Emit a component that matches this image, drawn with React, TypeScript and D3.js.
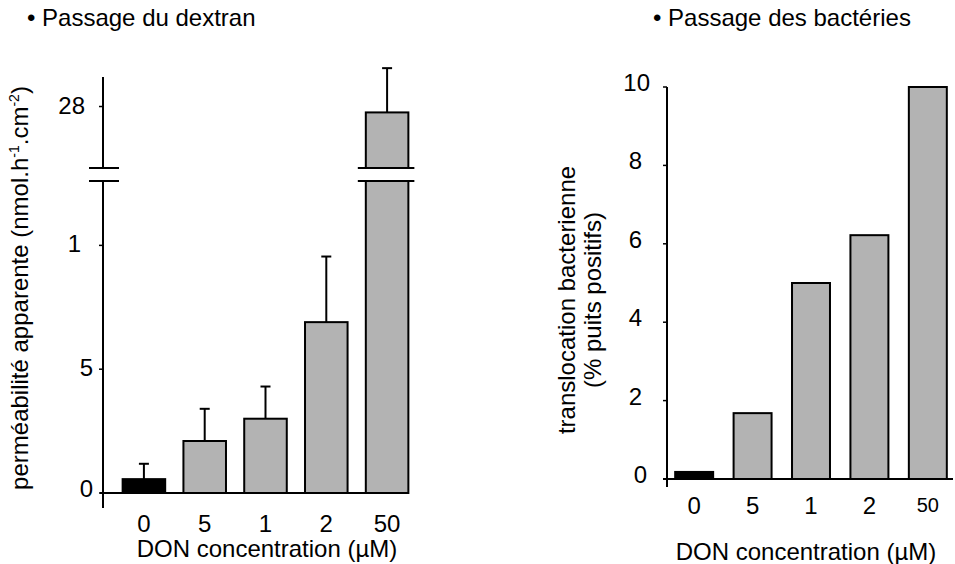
import React, { useEffect, useRef } from "react";
import * as d3 from "d3";

// DON concentrations (x categories), as printed on the figure
const categories = ["0", "5", "1", "2", "50"];

// left panel: dextran passage
const dextranValues = [0.56, 2.1, 3.0, 6.9, 27.76];
const dextranErrors = [0.62, 1.3, 1.3, 2.65, 1.8];
const dextranTicks = [0, 5, 10, 28];
const dextranTickLabels = ["0", "5", "1", "28"];

// right panel: bacterial translocation
const bacteriaValues = [0.18, 1.68, 5.0, 6.22, 10.0];
const bacteriaTicks = [0, 2, 4, 6, 8, 10];

const FONT = "'Liberation Sans', Arial, sans-serif";
const GREY = "#b3b3b3";

const App = () => {
  const svgRef = useRef<SVGSVGElement>(null);

  useEffect(() => {
    const svg = d3.select(svgRef.current);
    svg.selectAll("*").remove();

    // ---------- left chart (broken y axis) ----------
    const left = svg.append("g");
    const x1 = d3
      .scaleBand()
      .domain(categories)
      .range([105, 426])
      .paddingInner(0.3)
      .paddingOuter(0.29);

    const breakLo = 12.6;
    const breakHi = 25.5;
    const yLow = d3.scaleLinear().domain([0, breakLo]).range([493, 181]);
    const yHigh = d3.scaleLinear().domain([breakHi, 29.2]).range([168, 77]);
    const yAny = (v: number) => (v > breakLo ? yHigh(v) : yLow(v));
    const axisX = 103;

    left
      .append("text")
      .attr("x", 27)
      .attr("y", 26)
      .style("font-family", FONT)
      .style("font-size", "24px")
      .text("\u2022 Passage du dextran");

    // bars
    categories.forEach((c, i) => {
      const v = dextranValues[i];
      const bx = x1(c)!;
      const bw = x1.bandwidth();
      const fill = i === 0 ? "#000" : GREY;
      if (v > breakLo) {
        left
          .append("rect")
          .attr("x", bx)
          .attr("y", yLow(breakLo))
          .attr("width", bw)
          .attr("height", yLow(0) - yLow(breakLo))
          .attr("fill", fill)
          .attr("stroke", "#000")
          .attr("stroke-width", 2);
        left
          .append("rect")
          .attr("x", bx)
          .attr("y", yHigh(v))
          .attr("width", bw)
          .attr("height", yHigh(breakHi) - yHigh(v))
          .attr("fill", fill)
          .attr("stroke", "#000")
          .attr("stroke-width", 2);
        // white gap + break lines
        left
          .append("rect")
          .attr("x", bx - 8)
          .attr("y", yHigh(breakHi))
          .attr("width", bw + 14)
          .attr("height", yLow(breakLo) - yHigh(breakHi))
          .attr("fill", "#fff");
        [yHigh(breakHi), yLow(breakLo)].forEach(yy => {
          left
            .append("line")
            .attr("x1", bx - 8)
            .attr("x2", bx + bw + 6)
            .attr("y1", yy)
            .attr("y2", yy)
            .attr("stroke", "#000")
            .attr("stroke-width", 2);
        });
      } else {
        left
          .append("rect")
          .attr("x", bx)
          .attr("y", yLow(v))
          .attr("width", bw)
          .attr("height", yLow(0) - yLow(v))
          .attr("fill", fill)
          .attr("stroke", "#000")
          .attr("stroke-width", 2);
      }
      // error bar
      const cx = bx + bw / 2;
      const top = yAny(v + dextranErrors[i]);
      left
        .append("line")
        .attr("x1", cx)
        .attr("x2", cx)
        .attr("y1", yAny(v))
        .attr("y2", top)
        .attr("stroke", "#000")
        .attr("stroke-width", 2);
      left
        .append("line")
        .attr("x1", cx - 5)
        .attr("x2", cx + 5)
        .attr("y1", top)
        .attr("y2", top)
        .attr("stroke", "#000")
        .attr("stroke-width", 2);
    });

    // y axis segments
    left
      .append("line")
      .attr("x1", axisX)
      .attr("x2", axisX)
      .attr("y1", yLow(0) + 15)
      .attr("y2", yLow(breakLo))
      .attr("stroke", "#000")
      .attr("stroke-width", 2);
    left
      .append("line")
      .attr("x1", axisX)
      .attr("x2", axisX)
      .attr("y1", yHigh(breakHi))
      .attr("y2", yHigh.range()[1])
      .attr("stroke", "#000")
      .attr("stroke-width", 2);
    [yHigh(breakHi), yLow(breakLo)].forEach(yy => {
      left
        .append("line")
        .attr("x1", axisX - 14)
        .attr("x2", axisX + 16)
        .attr("y1", yy)
        .attr("y2", yy)
        .attr("stroke", "#000")
        .attr("stroke-width", 2);
    });

    // x axis line
    left
      .append("line")
      .attr("x1", axisX - 3)
      .attr("x2", x1(categories[4])! + x1.bandwidth())
      .attr("y1", yLow(0))
      .attr("y2", yLow(0))
      .attr("stroke", "#000")
      .attr("stroke-width", 2);

    // y ticks (labels sit a little unevenly in the original)
    const labelNudge: Record<string, number> = { "1": -12, "28": -8 };
    dextranTicks.forEach((t, i) => {
      const yy = yAny(t);
      const lab = dextranTickLabels[i];
      left
        .append("line")
        .attr("x1", axisX - 4)
        .attr("x2", axisX)
        .attr("y1", yy)
        .attr("y2", yy)
        .attr("stroke", "#000")
        .attr("stroke-width", 1.5);
      left
        .append("text")
        .attr("x", axisX - 10 + (labelNudge[lab] || 0))
        .attr("y", yy + (t === 0 ? 4 : 7))
        .attr("text-anchor", "end")
        .style("font-family", FONT)
        .style("font-size", "24px")
        .text(lab);
    });

    // x tick labels
    categories.forEach(c => {
      left
        .append("text")
        .attr("x", x1(c)! + x1.bandwidth() / 2)
        .attr("y", 532)
        .attr("text-anchor", "middle")
        .style("font-family", FONT)
        .style("font-size", "24px")
        .text(c);
    });

    left
      .append("text")
      .attr("x", 267)
      .attr("y", 557)
      .attr("text-anchor", "middle")
      .style("font-family", FONT)
      .style("font-size", "24px")
      .text("DON concentration (\u00b5M)");

    // y label with superscripts
    const yl = left
      .append("text")
      .attr("transform", "rotate(-90)")
      .attr("x", -288)
      .attr("y", 28)
      .attr("text-anchor", "middle")
      .style("font-family", FONT)
      .style("font-size", "24px");
    yl.append("tspan").text("perméabilité apparente (nmol.h");
    yl.append("tspan").attr("dy", -9).style("font-size", "14px").text("-1");
    yl.append("tspan").attr("dy", 9).text(".cm");
    yl.append("tspan").attr("dy", -9).style("font-size", "14px").text("-2");
    yl.append("tspan").attr("dy", 9).text(")");

    // ---------- right chart ----------
    const right = svg.append("g");
    const x2 = d3
      .scaleBand()
      .domain(categories)
      .range([667, 955])
      .paddingInner(0.35)
      .paddingOuter(0.14);
    const y2 = d3.scaleLinear().domain([0, 10]).range([479, 87]);

    right
      .append("text")
      .attr("x", 653)
      .attr("y", 26)
      .style("font-family", FONT)
      .style("font-size", "24px")
      .text("\u2022 Passage des bactéries");

    right
      .selectAll("rect.bar")
      .data(bacteriaValues)
      .enter()
      .append("rect")
      .attr("class", "bar")
      .attr("x", (d, i) => x2(categories[i])!)
      .attr("y", d => y2(d))
      .attr("width", x2.bandwidth())
      .attr("height", d => y2(0) - y2(d))
      .attr("fill", (d, i) => (i === 0 ? "#000" : GREY))
      .attr("stroke", "#000")
      .attr("stroke-width", 2);

    right
      .append("line")
      .attr("x1", 667)
      .attr("x2", 667)
      .attr("y1", y2(0) + 8)
      .attr("y2", y2(10))
      .attr("stroke", "#000")
      .attr("stroke-width", 2);
    right
      .append("line")
      .attr("x1", 663)
      .attr("x2", 953)
      .attr("y1", y2(0))
      .attr("y2", y2(0))
      .attr("stroke", "#000")
      .attr("stroke-width", 2);

    bacteriaTicks.forEach(t => {
      right
        .append("line")
        .attr("x1", 663)
        .attr("x2", 667)
        .attr("y1", y2(t))
        .attr("y2", y2(t))
        .attr("stroke", "#000")
        .attr("stroke-width", 1.5);
      right
        .append("text")
        .attr("x", t === 10 ? 650 : t === 0 ? 647 : 642)
        .attr("y", y2(t) + 4)
        .attr("text-anchor", "end")
        .style("font-family", FONT)
        .style("font-size", "24px")
        .text(t);
    });

    categories.forEach(c => {
      right
        .append("text")
        .attr("x", x2(c)! + x2.bandwidth() / 2)
        .attr("y", c === "50" ? 512 : 514)
        .attr("text-anchor", "middle")
        .style("font-family", FONT)
        .style("font-size", c === "50" ? "20px" : "24px")
        .text(c);
    });

    right
      .append("text")
      .attr("x", 806)
      .attr("y", 560)
      .attr("text-anchor", "middle")
      .style("font-family", FONT)
      .style("font-size", "24px")
      .text("DON concentration (\u00b5M)");

    const yl2 = right
      .append("text")
      .attr("transform", "rotate(-90)")
      .attr("text-anchor", "middle")
      .style("font-family", FONT)
      .style("font-size", "24px");
    yl2.append("tspan").attr("x", -300).attr("y", 575).text("translocation bacterienne");
    yl2.append("tspan").attr("x", -300).attr("y", 601).text("(% puits positifs)");
  }, []);

  return (
    <svg
      ref={svgRef}
      width={955}
      height={564}
      style={{ position: "absolute", left: 0, top: 0, background: "#fff" }}
    ></svg>
  );
};

export default App;
